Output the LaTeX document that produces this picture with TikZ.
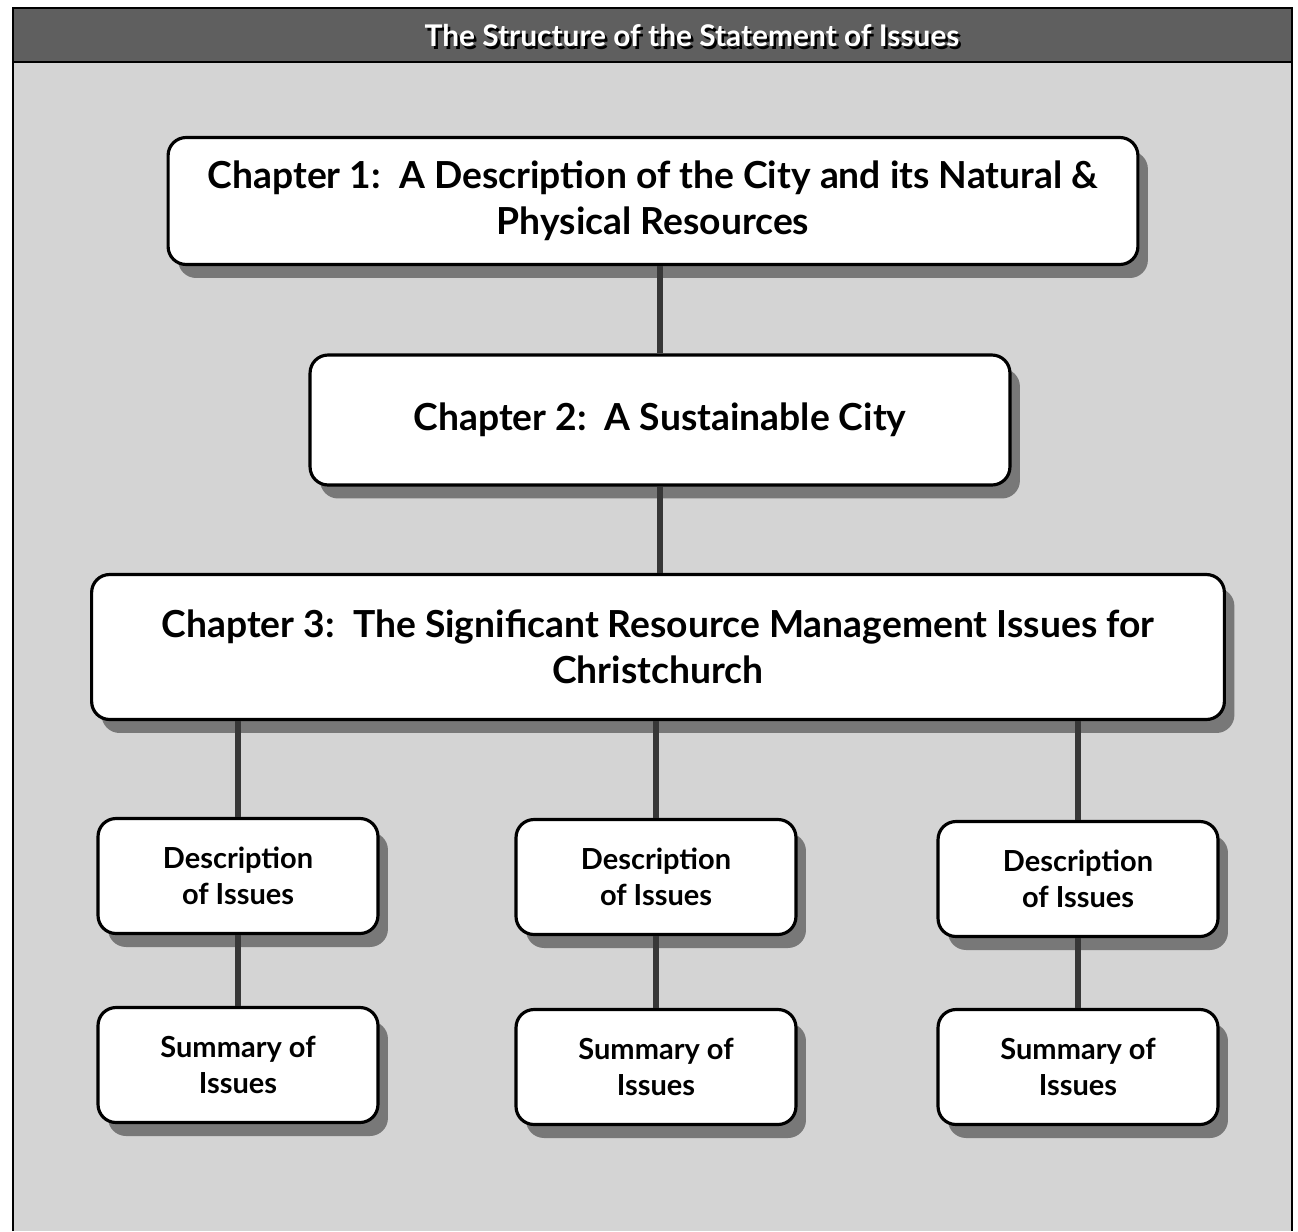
\documentclass[tikz,border=0pt]{standalone}
\usepackage{fontspec}
\setmainfont{Lato}
\usetikzlibrary{shadows,positioning}
\definecolor{bandgray}{RGB}{95,95,95}
\definecolor{paper}{RGB}{212,212,212}
\definecolor{shadowgray}{RGB}{120,120,120}
\definecolor{linkgray}{RGB}{55,55,55}

\begin{document}
\begin{tikzpicture}[x=0.02cm, y=-0.02cm,
  chapbox/.style={draw=black, line width=1.8pt, fill=white, rounded corners=0.36cm,
    align=center, font=\fontsize{21.2}{26}\selectfont\bfseries,
    drop shadow={shadow xshift=0.2cm, shadow yshift=-0.27cm, fill=shadowgray, opacity=1}},
  issuebox/.style={chapbox, minimum width=5.6cm, minimum height=2.3cm,
    font=\fontsize{16.5}{20.5}\selectfont\bfseries},
  titletext/.style={font=\fontsize{17}{20}\selectfont\bfseries},
  link/.style={draw=linkgray, line width=3pt}]
  \useasboundingbox (0,0) rectangle (1298,1231);
  % frame and title band
  \fill[paper] (13,62) rectangle (1292,1231);
  \fill[bandgray] (13,8) rectangle (1292,62);
  \draw[line width=1.2pt] (13,1231) -- (13,8) -- (1292,8) -- (1292,1231);
  \draw[line width=1pt] (13,62) -- (1292,62);
  \node[titletext, text=black] at (694.5,38.5) {The Structure of the Statement of Issues};
  \node[titletext, text=white] (title) at (692,36) {The Structure of the Statement of Issues};
  % chapters
  \node[chapbox, minimum width=19.4cm, minimum height=2.54cm] (ch1) at (653,201)
    {Chapter 1:\ \ A Description of the City and its Natural \&\\ Physical Resources};
  \node[chapbox, minimum width=14cm, minimum height=2.6cm] (ch2) at (660,420)
    {Chapter 2:\ \ A Sustainable City};
  \node[chapbox, minimum width=22.66cm, minimum height=2.9cm] (ch3) at (658,647)
    {Chapter 3:\ \ The Significant Resource Management Issues for\\ Christchurch};
  % issues, one column per group
  \node[issuebox] (descL) at (238,876) {Description\\ of Issues};
  \node[issuebox] (descM) at (656,877) {Description\\ of Issues};
  \node[issuebox] (descR) at (1078,879) {Description\\ of Issues};
  \node[issuebox] (sumL) at (238,1065) {Summary of\\ Issues};
  \node[issuebox] (sumM) at (656,1067) {Summary of\\ Issues};
  \node[issuebox] (sumR) at (1078,1067) {Summary of\\ Issues};
  % links
  \draw[link] (ch2.north) -- (ch2.north |- ch1.south);
  \draw[link] (ch3.north -| ch2) -- (ch2.south);
  \foreach \col in {L,M,R} {
    \draw[link] (desc\col.north) -- (desc\col.north |- ch3.south);
    \draw[link] (sum\col.north) -- (desc\col.south);
  }
\end{tikzpicture}
\end{document}
